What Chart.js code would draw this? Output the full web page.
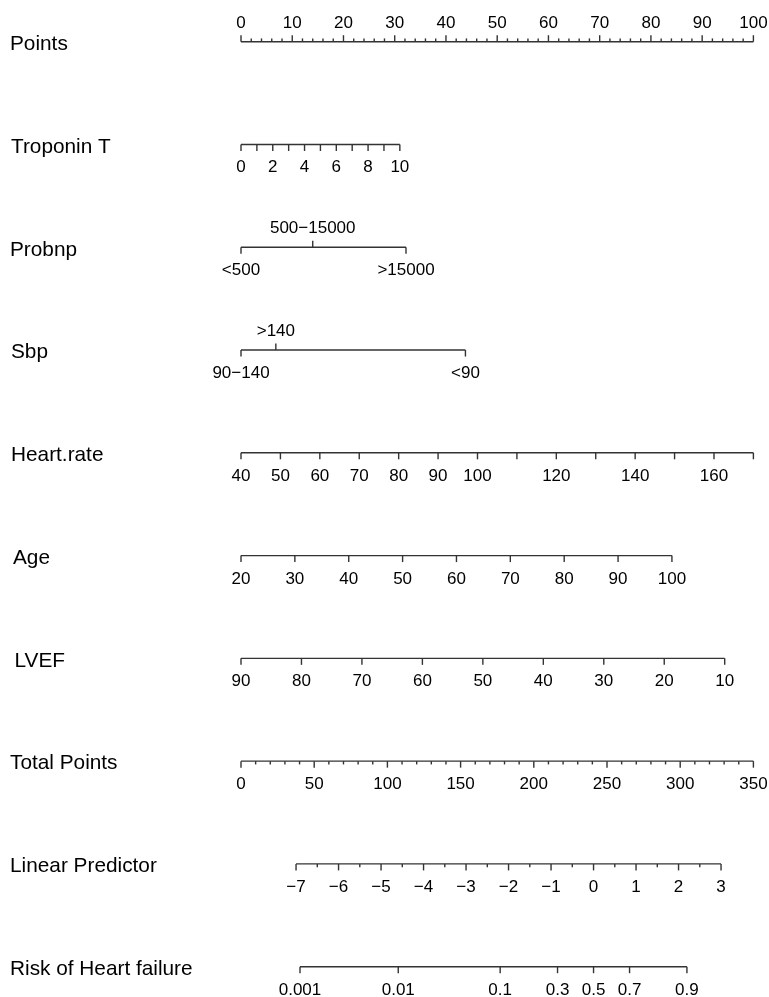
<!DOCTYPE html>
<html lang="en">
<head>
<meta charset="utf-8">
<title>Nomogram - Risk of Heart failure</title>
<script src="https://cdn.jsdelivr.net/npm/chart.js@4.4.1/dist/chart.umd.min.js"></script>
<style>
  html, body { margin: 0; padding: 0; background: #fff; }
  #wrap { width: 769px; height: 997px; }
</style>
</head>
<body>
<div id="wrap"><canvas id="nomo" width="769" height="997"></canvas></div>
<script>
// row titles, top to bottom
const rowNames = ["Points", "Troponin T", "Probnp", "Sbp", "Heart.rate", "Age", "LVEF",
                  "Total Points", "Linear Predictor", "Risk of Heart failure"];

// Points (0-100), labels above
const pointVals = [0, 10, 20, 30, 40, 50, 60, 70, 80, 90, 100];
const pointMinorStep = 2;

// continuous predictors: tick values, labels, points at first/last tick
const troponinVals = [0, 1, 2, 3, 4, 5, 6, 7, 8, 9, 10];
const troponinLabels = ["0", "", "2", "", "4", "", "6", "", "8", "", "10"];
const troponinPts = [0, 31.0];

const heartRateVals = [40, 50, 60, 70, 80, 90, 100, 110, 120, 130, 140, 150, 160, 170];
const heartRateLabels = ["40", "50", "60", "70", "80", "90", "100", "", "120", "", "140", "", "160", ""];
const heartRatePts = [0, 100];

const ageVals = [20, 30, 40, 50, 60, 70, 80, 90, 100];
const agePts = [0, 84.1];

const lvefVals = [90, 80, 70, 60, 50, 40, 30, 20, 10];
const lvefPts = [0, 94.4];

// categorical predictors
const probnpLabels = ["<500", "500\u221215000", ">15000"];
const probnpPts = [0, 14.0, 32.2];
const probnpSide = ["below", "above", "below"];

const sbpLabels = ["90\u2212140", ">140", "<90"];
const sbpPts = [0, 6.8, 43.8];
const sbpSide = ["below", "above", "below"];

// total points 0-350
const totalVals = [0, 50, 100, 150, 200, 250, 300, 350];
const totalMinorStep = 10;

// linear predictor, total points at -7 and at 3
const lpVals = [-7, -6, -5, -4, -3, -2, -1, 0, 1, 2, 3];
const lpTotal = [37.6, 327.9];
const lpMinorStep = 0.5;

// risk
const riskVals = [0.001, 0.01, 0.1, 0.3, 0.5, 0.7, 0.9];
const riskLabels = ["0.001", "0.01", "0.1", "0.3", "0.5", "0.7", "0.9"];

// ---- helpers to turn values into points ----
function lerpPts(vals, pts, v) {
    const v0 = vals[0], v1 = vals[vals.length - 1];
    return pts[0] + (v - v0) / (v1 - v0) * (pts[1] - pts[0]);
}
const totalToPts = t => t / 350 * 100;
const lpToPts = lp => totalToPts(lpTotal[0] + (lp + 7) / 10 * (lpTotal[1] - lpTotal[0]));
const riskToPts = p => lpToPts(Math.log(p / (1 - p)));
const fmtNum = v => (v < 0 ? "\u2212" + Math.abs(v) : String(v));

const MAJOR = 6.5, MINOR = 3.3;

function contAxis(row, vals, labels, pts) {
    return {
        row: row,
        ticks: vals.map((v, i) => ({ pts: lerpPts(vals, pts, v), label: labels ? labels[i] : String(v), side: "below", len: MAJOR })),
        minor: []
    };
}
function catAxis(row, labels, pts, sides) {
    return {
        row: row,
        ticks: labels.map((l, i) => ({ pts: pts[i], label: l, side: sides[i], len: MAJOR })),
        minor: []
    };
}

const axes = [];
// Points
const pAx = { row: 0, ticks: pointVals.map(v => ({ pts: v, label: String(v), side: "above", len: MAJOR })), minor: [] };
for (let v = 0; v <= 100; v += pointMinorStep) if (v % 10 !== 0) pAx.minor.push({ pts: v, side: "above" });
axes.push(pAx);
axes.push(contAxis(1, troponinVals, troponinLabels, troponinPts));
axes.push(catAxis(2, probnpLabels, probnpPts, probnpSide));
axes.push(catAxis(3, sbpLabels, sbpPts, sbpSide));
axes.push(contAxis(4, heartRateVals, heartRateLabels, heartRatePts));
axes.push(contAxis(5, ageVals, null, agePts));
axes.push(contAxis(6, lvefVals, null, lvefPts));
// Total points
const tAx = { row: 7, ticks: totalVals.map(v => ({ pts: totalToPts(v), label: String(v), side: "below", len: MAJOR })), minor: [] };
for (let v = 0; v <= 350; v += totalMinorStep) if (v % 50 !== 0) tAx.minor.push({ pts: totalToPts(v), side: "below" });
axes.push(tAx);
// Linear predictor
const lAx = { row: 8, ticks: lpVals.map(v => ({ pts: lpToPts(v), label: fmtNum(v), side: "below", len: MAJOR })), minor: [] };
for (let v = -7; v <= 3; v += lpMinorStep) if (!Number.isInteger(v)) lAx.minor.push({ pts: lpToPts(v), side: "below" });
axes.push(lAx);
// Risk
axes.push({ row: 9, ticks: riskVals.map((v, i) => ({ pts: riskToPts(v), label: riskLabels[i], side: "below", len: MAJOR })), minor: [] });

// each axis line is a line dataset from first to last tick
const datasets = axes.map(a => {
    const xs = a.ticks.map(t => t.pts);
    return {
        data: [{ x: Math.min(...xs), y: a.row }, { x: Math.max(...xs), y: a.row }],
        borderColor: "#333",
        borderWidth: 1.4,
        pointRadius: 0,
        clip: false
    };
});

const titleX = [10, 11, 10, 11, 11, 13, 14.5, 10, 10, 10];
const FONT = '"Liberation Sans", Arial, Helvetica, sans-serif';

const nomoPlugin = {
    id: "nomoTicks",
    afterDatasetsDraw(chart) {
        const ctx = chart.ctx, xs = chart.scales.x, ys = chart.scales.y;
        ctx.save();
        ctx.strokeStyle = "#333";
        ctx.lineWidth = 1.4;
        ctx.fillStyle = "#000";
        ctx.textAlign = "center";
        ctx.textBaseline = "alphabetic";
        ctx.font = "17px " + FONT;
        axes.forEach(a => {
            const py = ys.getPixelForValue(a.row);
            a.minor.forEach(m => {
                const px = xs.getPixelForValue(m.pts);
                const dir = m.side === "above" ? -1 : 1;
                ctx.beginPath();
                ctx.moveTo(px, py);
                ctx.lineTo(px, py + dir * MINOR);
                ctx.stroke();
            });
            a.ticks.forEach(t => {
                const px = xs.getPixelForValue(t.pts);
                const dir = t.side === "above" ? -1 : 1;
                ctx.beginPath();
                ctx.moveTo(px, py);
                ctx.lineTo(px, py + dir * t.len);
                ctx.stroke();
                if (t.label) ctx.fillText(t.label, px, t.side === "above" ? py - 14 : py + 28);
            });
        });
        // row titles
        ctx.textAlign = "left";
        ctx.font = "20.8px " + FONT;
        rowNames.forEach((n, i) => {
            ctx.fillText(n, titleX[i], ys.getPixelForValue(i) + 8.3);
        });
        ctx.restore();
    }
};

new Chart(document.getElementById("nomo"), {
    type: "line",
    data: { datasets: datasets },
    options: {
        responsive: false,
        devicePixelRatio: 1,
        animation: false,
        layout: { padding: { left: 241, right: 15.6, top: 41.7, bottom: 30.3 } },
        plugins: { legend: { display: false }, tooltip: { enabled: false } },
        scales: {
            x: { type: "linear", min: 0, max: 100, display: false },
            y: { type: "linear", min: 0, max: 9, reverse: true, display: false }
        }
    },
    plugins: [nomoPlugin]
});
</script>
</body>
</html>
